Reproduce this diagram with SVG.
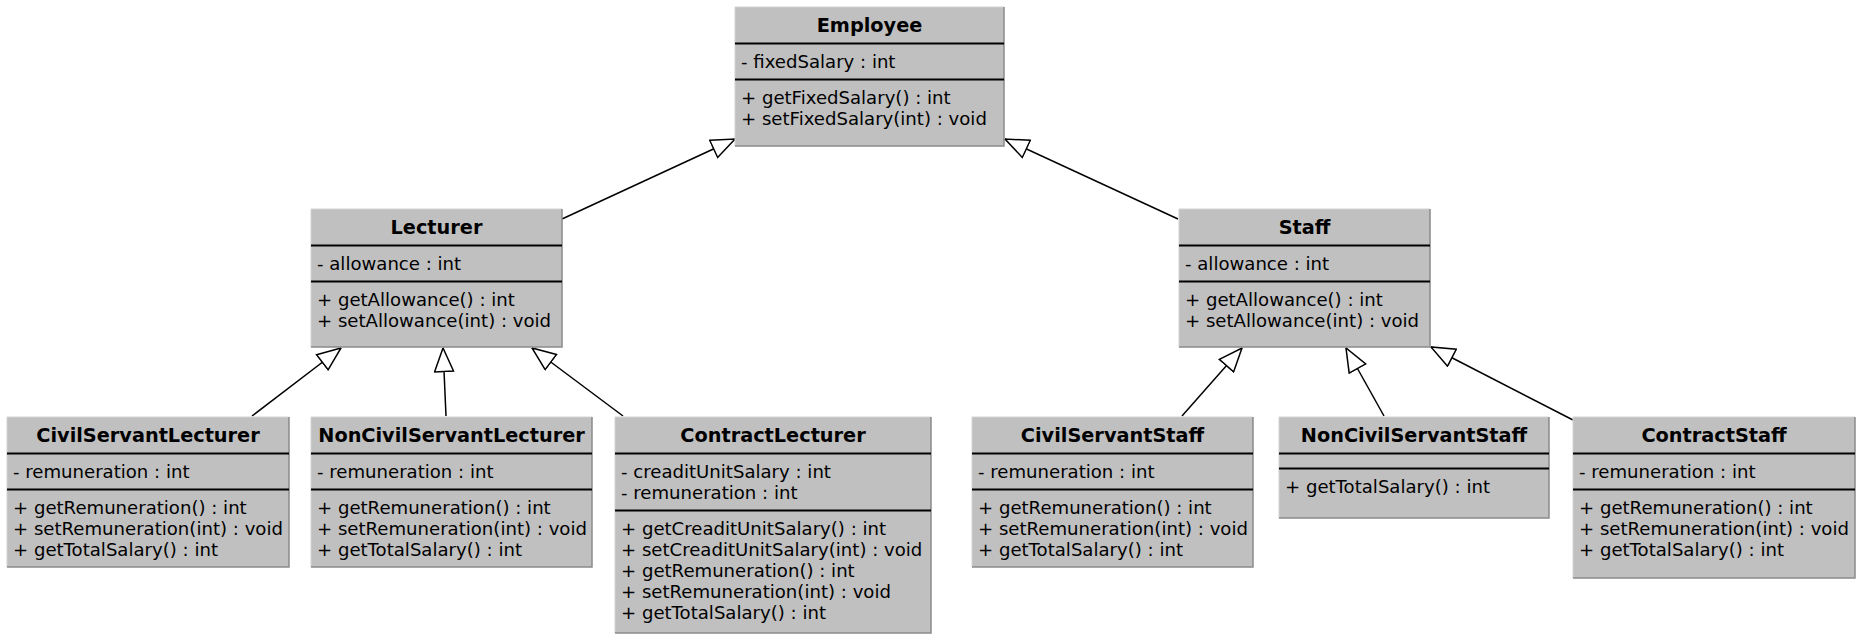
<svg xmlns="http://www.w3.org/2000/svg" width="1864" height="642" viewBox="0 0 1864 642">
<style>
.box{fill:#c0c0c0;stroke:none}
.edge{stroke:#8a8a8a;stroke-width:1.5;fill:none}
.hl{stroke:#d2d2d2;stroke-width:1;fill:none}
.sep{stroke:#000;stroke-width:2}
.t{font-family:"DejaVu Sans",sans-serif;font-size:19.3px;font-weight:bold;text-anchor:middle;fill:#000}
.m{font-family:"DejaVu Sans",sans-serif;font-size:18.1px;fill:#000}
.c{stroke:#000;stroke-width:1.5;fill:none;marker-end:url(#gen)}
</style>
<defs>
<marker id="gen" viewBox="0 0 25 21" refX="24.5" refY="10.5" markerWidth="25" markerHeight="21" markerUnits="userSpaceOnUse" orient="auto">
<path d="M1,1 L24.5,10.5 L1,20 Z" fill="#fff" stroke="#000" stroke-width="1.5"/>
</marker>
</defs>
<rect width="1864" height="642" fill="#fff"/>
<g id="connectors">
<line class="c" x1="562" y1="219" x2="735" y2="139"/>
<line class="c" x1="1178" y1="219" x2="1005" y2="139"/>
<line class="c" x1="252" y1="416" x2="341" y2="348"/>
<line class="c" x1="446" y1="416" x2="443" y2="348"/>
<line class="c" x1="623" y1="416" x2="532" y2="348"/>
<line class="c" x1="1182" y1="416" x2="1242" y2="348"/>
<line class="c" x1="1384" y1="416" x2="1346" y2="348"/>
<line class="c" x1="1573" y1="420" x2="1431" y2="347"/>
</g>
<g id="employee">
<rect class="box" x="735" y="7" width="269" height="139"/>
<path class="hl" d="M735,146 V7 H1004"/>
<path class="edge" d="M1004,7 V146 H735"/>
<line class="sep" x1="735" y1="43.5" x2="1004" y2="43.5"/>
<line class="sep" x1="735" y1="79.5" x2="1004" y2="79.5"/>
<text class="t" x="869.5" y="32">Employee</text>
<text class="m" x="741" y="67.5">- fixedSalary : int</text>
<text class="m" x="741" y="103.5">+ getFixedSalary() : int</text>
<text class="m" x="741" y="124.5">+ setFixedSalary(int) : void</text>
</g>
<g id="lecturer">
<rect class="box" x="311" y="209" width="251" height="138"/>
<path class="hl" d="M311,347 V209 H562"/>
<path class="edge" d="M562,209 V347 H311"/>
<line class="sep" x1="311" y1="245.5" x2="562" y2="245.5"/>
<line class="sep" x1="311" y1="281.5" x2="562" y2="281.5"/>
<text class="t" x="436.5" y="234">Lecturer</text>
<text class="m" x="317" y="269.5">- allowance : int</text>
<text class="m" x="317" y="305.5">+ getAllowance() : int</text>
<text class="m" x="317" y="326.5">+ setAllowance(int) : void</text>
</g>
<g id="staff">
<rect class="box" x="1179" y="209" width="251" height="138"/>
<path class="hl" d="M1179,347 V209 H1430"/>
<path class="edge" d="M1430,209 V347 H1179"/>
<line class="sep" x1="1179" y1="245.5" x2="1430" y2="245.5"/>
<line class="sep" x1="1179" y1="281.5" x2="1430" y2="281.5"/>
<text class="t" x="1304.5" y="234">Staff</text>
<text class="m" x="1185" y="269.5">- allowance : int</text>
<text class="m" x="1185" y="305.5">+ getAllowance() : int</text>
<text class="m" x="1185" y="326.5">+ setAllowance(int) : void</text>
</g>
<g id="civilServantLecturer">
<rect class="box" x="7" y="417" width="282" height="150"/>
<path class="hl" d="M7,567 V417 H289"/>
<path class="edge" d="M289,417 V567 H7"/>
<line class="sep" x1="7" y1="453.5" x2="289" y2="453.5"/>
<line class="sep" x1="7" y1="489.5" x2="289" y2="489.5"/>
<text class="t" x="148" y="442">CivilServantLecturer</text>
<text class="m" x="13" y="477.5">- remuneration : int</text>
<text class="m" x="13" y="513.5">+ getRemuneration() : int</text>
<text class="m" x="13" y="534.5">+ setRemuneration(int) : void</text>
<text class="m" x="13" y="555.5">+ getTotalSalary() : int</text>
</g>
<g id="nonCivilServantLecturer">
<rect class="box" x="311" y="417" width="281" height="150"/>
<path class="hl" d="M311,567 V417 H592"/>
<path class="edge" d="M592,417 V567 H311"/>
<line class="sep" x1="311" y1="453.5" x2="592" y2="453.5"/>
<line class="sep" x1="311" y1="489.5" x2="592" y2="489.5"/>
<text class="t" x="451.5" y="442">NonCivilServantLecturer</text>
<text class="m" x="317" y="477.5">- remuneration : int</text>
<text class="m" x="317" y="513.5">+ getRemuneration() : int</text>
<text class="m" x="317" y="534.5">+ setRemuneration(int) : void</text>
<text class="m" x="317" y="555.5">+ getTotalSalary() : int</text>
</g>
<g id="contractLecturer">
<rect class="box" x="615" y="417" width="316" height="216"/>
<path class="hl" d="M615,633 V417 H931"/>
<path class="edge" d="M931,417 V633 H615"/>
<line class="sep" x1="615" y1="453.5" x2="931" y2="453.5"/>
<line class="sep" x1="615" y1="510.5" x2="931" y2="510.5"/>
<text class="t" x="773" y="442">ContractLecturer</text>
<text class="m" x="621" y="477.5">- creaditUnitSalary : int</text>
<text class="m" x="621" y="498.5">- remuneration : int</text>
<text class="m" x="621" y="534.5">+ getCreaditUnitSalary() : int</text>
<text class="m" x="621" y="555.5">+ setCreaditUnitSalary(int) : void</text>
<text class="m" x="621" y="576.5">+ getRemuneration() : int</text>
<text class="m" x="621" y="597.5">+ setRemuneration(int) : void</text>
<text class="m" x="621" y="618.5">+ getTotalSalary() : int</text>
</g>
<g id="civilServantStaff">
<rect class="box" x="972" y="417" width="281" height="150"/>
<path class="hl" d="M972,567 V417 H1253"/>
<path class="edge" d="M1253,417 V567 H972"/>
<line class="sep" x1="972" y1="453.5" x2="1253" y2="453.5"/>
<line class="sep" x1="972" y1="489.5" x2="1253" y2="489.5"/>
<text class="t" x="1112.5" y="442">CivilServantStaff</text>
<text class="m" x="978" y="477.5">- remuneration : int</text>
<text class="m" x="978" y="513.5">+ getRemuneration() : int</text>
<text class="m" x="978" y="534.5">+ setRemuneration(int) : void</text>
<text class="m" x="978" y="555.5">+ getTotalSalary() : int</text>
</g>
<g id="nonCivilServantStaff">
<rect class="box" x="1279" y="417" width="270" height="101"/>
<path class="hl" d="M1279,518 V417 H1549"/>
<path class="edge" d="M1549,417 V518 H1279"/>
<line class="sep" x1="1279" y1="453.5" x2="1549" y2="453.5"/>
<line class="sep" x1="1279" y1="468.5" x2="1549" y2="468.5"/>
<text class="t" x="1414" y="442">NonCivilServantStaff</text>
<text class="m" x="1285" y="492.5">+ getTotalSalary() : int</text>
</g>
<g id="contractStaff">
<rect class="box" x="1573" y="417" width="282" height="161"/>
<path class="hl" d="M1573,578 V417 H1855"/>
<path class="edge" d="M1855,417 V578 H1573"/>
<line class="sep" x1="1573" y1="453.5" x2="1855" y2="453.5"/>
<line class="sep" x1="1573" y1="489.5" x2="1855" y2="489.5"/>
<text class="t" x="1714" y="442">ContractStaff</text>
<text class="m" x="1579" y="477.5">- remuneration : int</text>
<text class="m" x="1579" y="513.5">+ getRemuneration() : int</text>
<text class="m" x="1579" y="534.5">+ setRemuneration(int) : void</text>
<text class="m" x="1579" y="555.5">+ getTotalSalary() : int</text>
</g>
</svg>
